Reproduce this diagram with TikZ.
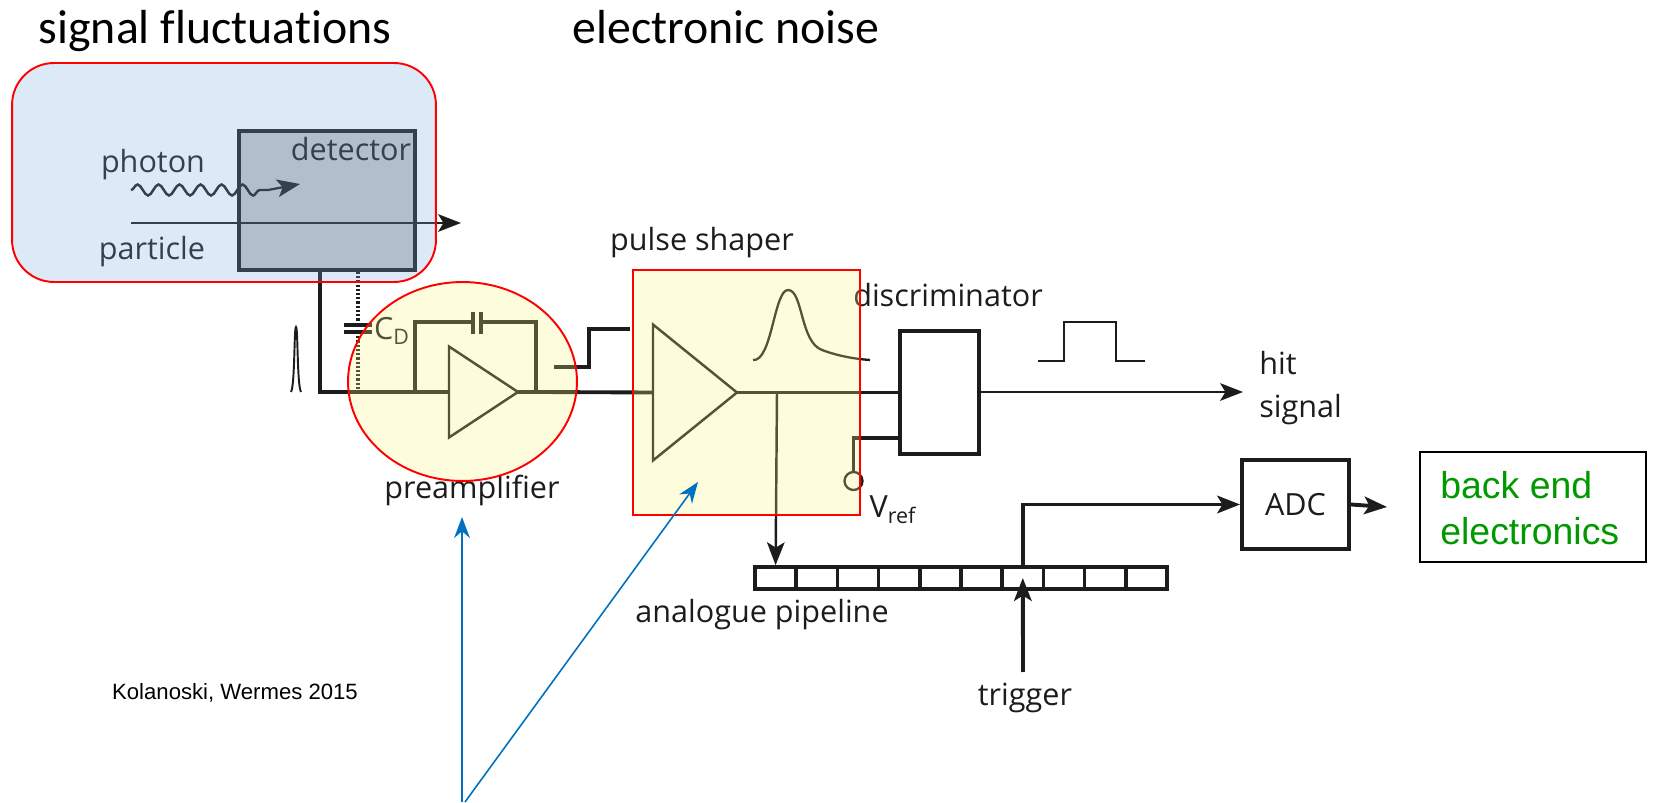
\documentclass[tikz,border=0pt]{standalone}
\usepackage{fontspec}
\setmainfont[Ligatures=NoCommon]{Carlito}
\newfontfamily\labelfont{Open Sans}
\newfontfamily\greenfont{Liberation Sans}
\usetikzlibrary{arrows.meta,shapes.geometric,decorations.pathmorphing}

\definecolor{wire}{HTML}{1C1C1C}
\definecolor{bluewash}{HTML}{77ADDF}
\definecolor{yellowwash}{HTML}{F7F77D}
\definecolor{detgrey}{HTML}{C4C6C5}
\definecolor{callout}{HTML}{0070C0}
\definecolor{backend}{HTML}{009900}
\def\cellw{41.2}

\begin{document}
\begin{tikzpicture}[x=0.02cm,y=-0.02cm]
		\tikzstyle{thick wire}=[draw=wire,line width=2.2pt]
		\tikzstyle{thin wire}=[draw=wire,line width=1.25pt]
		\tikzstyle{tip}=[-{Stealth[length=13pt,width=10pt,inset=3pt]}]
		\tikzstyle{block}=[rectangle,draw=wire,line width=2.2pt,inner sep=0pt,fill=white]
		\tikzstyle{amp}=[isosceles triangle,isosceles triangle stretches,shape border rotate=0,draw=wire,line width=1.4pt,inner sep=0pt,outer sep=0pt,fill=white]
		\tikzstyle{cell}=[rectangle,draw=wire,line width=2.1pt,inner sep=0pt,minimum width=0.824cm,minimum height=0.44cm,fill=white]
		\tikzstyle{annot}=[text=wire,font=\labelfont\fontsize{17.4}{24}\selectfont,inner sep=0pt]
		\tikzstyle{head}=[text=black,font=\fontsize{27.2}{32}\selectfont,inner sep=0pt,anchor=base]
		\tikzstyle{wash}=[draw=red,line width=1.1pt,fill opacity=0.26]
		\useasboundingbox (0,0) rectangle (1654,803);

		% Draw the blocks
		\node[block,fill=detgrey,minimum width=3.52cm,minimum height=2.78cm] (detector) at (327,200.5) {};
		\node[block,minimum width=1.58cm,minimum height=2.46cm] (disc) at (939.5,392.5) {};
		\node[block,minimum width=2.14cm,minimum height=1.78cm] (adc) at (1295.5,504.5) {};
		\node[rectangle,draw=black,line width=0.9pt,minimum width=4.53cm,minimum height=2.2cm] (backend) at (1533,507) {};

		% Draw the amplifiers
		\node[amp,minimum width=1.82cm,minimum height=1.38cm,anchor=lower side] (pre) at (449,392) {};
		\node[amp,minimum width=2.72cm,minimum height=1.68cm,anchor=lower side] (shaper) at (653,392.5) {};

		% Draw the pipeline cells
		\foreach \name in {1,...,10}
		\node[cell] (P-\name) at ({755+\cellw*(\name-0.5)},578) {};

		% Draw the free ends
		\coordinate (J-in) at (320,392);
		\coordinate (J-dot) at (358,392);
		\coordinate (J-fb1) at (415,392);
		\coordinate (J-fb2) at (536,392);
		\coordinate (J-tap) at (777,392.5);
		\coordinate (Cf-a) at (473,322);
		\coordinate (Cf-b) at (481,322);
		\coordinate (Cd-a) at (358,325);
		\coordinate (Cd-b) at (358,332);
		\node[circle,draw=wire,line width=1.3pt,minimum size=0.36cm,inner sep=0pt,fill=white] (vref) at (853.5,481) {};
		\coordinate (hit-end) at (1243,392);
		\coordinate (adc-end) at (1387,507);
		\coordinate (trig-start) at (1023,672);
		\coordinate (part-a) at (131,223);
		\coordinate (part-b) at (461,223);
		\coordinate (ph-a) at (131,190);
		\coordinate (ph-b) at (268,190);
		\coordinate (ph-c) at (300,184);
		\coordinate (call-a) at (462,802);
		\coordinate (call-b) at (462,517);
		\coordinate (call-c) at (465,802);
		\coordinate (call-d) at (698,482);

		% Connect the input side
		\draw[thick wire] (detector.south -| J-in) -- (J-in) -- (J-dot) -- (J-fb1) -- (pre.lower side);
		\draw[wire,line width=2.4pt,dash pattern=on 1.3pt off 1.1pt] (detector.south -| J-dot) -- (Cd-a);
		\draw[wire,line width=2.4pt,dash pattern=on 1.3pt off 1.1pt] (Cd-b) -- (J-dot);
		\draw[thick wire] (344,325) -- (372,325);
		\draw[thick wire] (344,332) -- (372,332);

		% Connect the feedback loop
		\draw[thick wire] (J-fb1) |- (Cf-a);
		\draw[thick wire] (J-fb2) |- (Cf-b);
		\draw[thick wire] (Cf-a |- 0,312) -- (Cf-a |- 0,334);
		\draw[thick wire] (Cf-b |- 0,312) -- (Cf-b |- 0,334);
		\draw[thick wire] (pre.apex) -- (J-fb2) -- (shaper.lower side);

		% Connect the output side
		\draw[thin wire] (shaper.apex) -- (J-tap) -- (J-tap -| disc.west);
		\draw[thin wire,line width=1.4pt,tip] (J-tap) -- (P-1.north);
		\draw[thin wire,tip] (disc.east |- hit-end) -- (hit-end);
		\draw[thick wire] (vref.north) |- (disc.west |- 0,438);
		\draw[thick wire,tip] (P-7.north) |- (adc.west);
		\draw[thick wire,tip] (adc.east) -- (adc-end);
		\draw[thick wire,tip] (trig-start) -- (P-7.center);

		% Draw the particle and the photon
		\draw[thin wire,tip] (part-a) -- (part-b);
		\draw[thin wire,line width=1.4pt,decorate,decoration={snake,amplitude=0.11cm,segment length=0.42cm}] (ph-a) -- (ph-b);
		\draw[thin wire,tip] (ph-b) -- (ph-c);

		% Draw the pulse shapes
		\draw[wire,line width=1.1pt] (291,392) .. controls (295,385) and (294,327) .. (296,327) .. controls (298,327) and (297,385) .. (301,392);
		\draw[thick wire] (554,367) -- (589,367) -- (589,329) -- (630,329);
		\draw[wire,line width=1.3pt] (753,360) .. controls (772,362) and (774,290) .. (788,290) .. controls (803,290) and (800,342) .. (822,350) .. controls (838,356) and (855,359) .. (870,360);
		\draw[wire,line width=1.4pt] (1038,361) -- (1064,361) -- (1064,322) -- (1116,322) -- (1116,361) -- (1145,361);

		% Annotate the blocks
		\node[annot] (l-det) at (351,149) {detector};
		\node[annot] (l-photon) at (153,165) {photon};
		\node[annot] (l-particle) at (152,252) {particle};
		\node[annot] (l-cd) at (392,331) {C\textsubscript{D}};
		\node[annot] (l-pre) at (472,490) {preamplifier};
		\node[annot] (l-shaper) at (702,243) {pulse shaper};
		\node[annot] (l-disc) at (948,295) {discriminator};
		\node[annot,align=left,anchor=west] (l-hit) at (1259,388) {hit\\signal};
		\node[annot] (l-vref) at (893,510) {V\textsubscript{ref}};
		\node[annot] (l-adc) at (1295.5,505) {ADC};
		\node[annot] (l-pipe) at (762,615) {analogue pipeline};
		\node[annot] (l-trig) at (1025,698) {trigger};
		\node[annot,font=\greenfont\fontsize{12.6}{14}\selectfont,text=black] (l-ref) at (235,693) {Kolanoski, Wermes 2015};
		\node[anchor=west,align=left,text=backend,inner sep=0pt,font=\greenfont\fontsize{21.3}{26}\selectfont] (l-back) at (1440,508) {back end\\electronics};
		\node[head] (h-signal) at (215,44) {signal fluctuations};
		\node[head] (h-noise) at (726,44) {electronic noise};

		% Lay the coloured washes over the drawing
		\node[wash,fill=bluewash,rectangle,rounded corners=0.84cm,minimum width=8.48cm,minimum height=4.38cm] (w-det) at (224,172.5) {};
		\node[wash,fill=yellowwash,ellipse,minimum width=4.58cm,minimum height=3.98cm,inner sep=0pt] (w-pre) at (462.5,381.5) {};
		\node[wash,fill=yellowwash,rectangle,line width=0.9pt,minimum width=4.53cm,minimum height=4.9cm,inner sep=0pt] (w-shaper) at (746.5,392.5) {};

		% Draw the callouts
		\draw[callout,line width=0.9pt,-{Stealth[length=12pt,width=9pt]}] (call-a) -- (call-b);
		\draw[callout,line width=0.9pt,-{Stealth[length=12pt,width=9pt]}] (call-c) -- (call-d);
\end{tikzpicture}
\end{document}
